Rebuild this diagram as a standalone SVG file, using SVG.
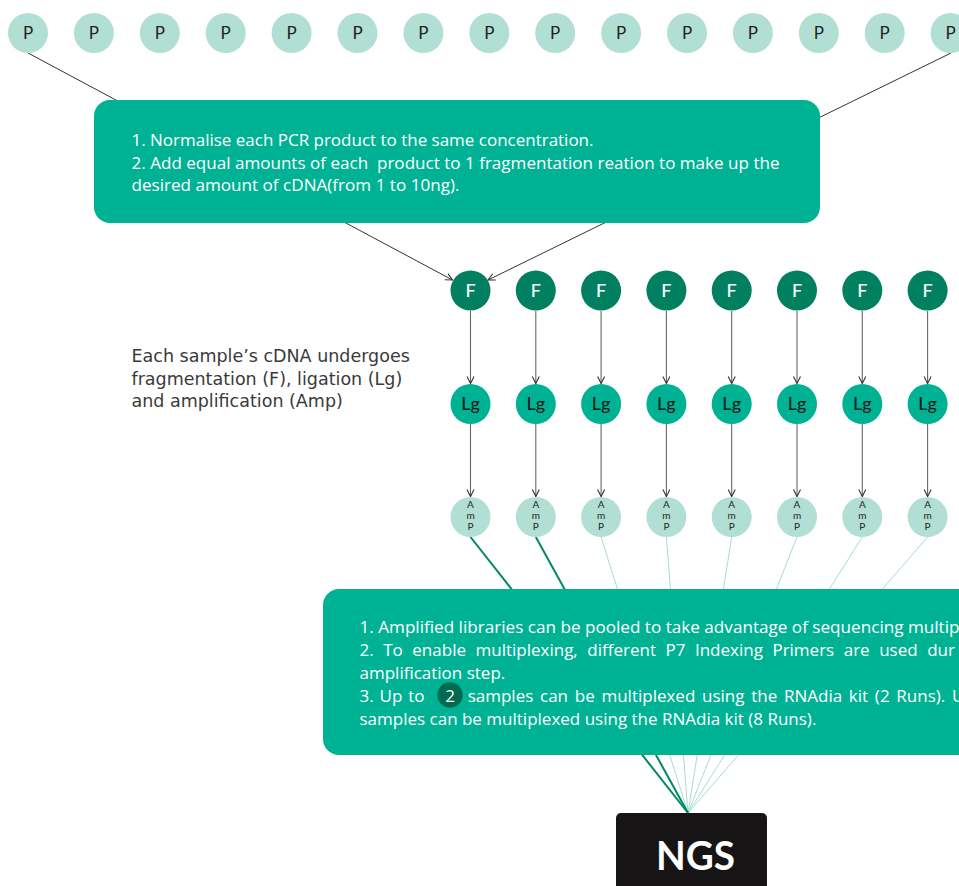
<svg xmlns="http://www.w3.org/2000/svg" width="959" height="886" viewBox="0 0 959 886">
<defs>
<style>
.p{fill:#b2dfd4}
.f{fill:#008060}
.lg{fill:#00b294}
.box{fill:#00b294}
.pt{font-family:Lato,"Open Sans",sans-serif;font-size:17px;fill:#222;text-anchor:middle}
.ft{font-family:Lato,"Open Sans",sans-serif;font-size:18px;font-weight:500;fill:#fff;text-anchor:middle}
.lt{font-family:Lato,"Open Sans",sans-serif;font-size:18px;font-weight:500;fill:#1d1d1d;text-anchor:middle}
.at{font-family:Lato,"Open Sans",sans-serif;font-size:10px;fill:#222;text-anchor:middle}
.bt{font-family:"Open Sans","Noto Sans",sans-serif;font-size:17px;fill:#fff}
.side{font-family:"DejaVu Sans",sans-serif;font-size:17.5px;fill:#3a3a3a}
.dark{stroke:#333;stroke-width:1;fill:none}
.vert{stroke:#666;stroke-width:1.1;fill:none}
.thick{stroke:#00876a;stroke-width:2}
.thin{stroke:#a8dccf;stroke-width:1}
</style>
<marker id="arr" markerWidth="10" markerHeight="10" refX="8" refY="4" orient="auto" markerUnits="userSpaceOnUse">
<path d="M1,0.5 L8,4 L1,7.5" fill="none" stroke="#333" stroke-width="1.1"/>
</marker>
</defs>
<rect width="959" height="886" fill="#fff"/>

<g id="connectors">
<line class="dark" x1="28" y1="53" x2="452.5" y2="280" marker-end="url(#arr)"/>
<line class="dark" x1="951" y1="53" x2="488" y2="280" marker-end="url(#arr)"/>
<line class="vert" x1="470.5" y1="311" x2="470.5" y2="383.5" marker-end="url(#arr)"/>
<line class="vert" x1="535.8" y1="311" x2="535.8" y2="383.5" marker-end="url(#arr)"/>
<line class="vert" x1="601.1" y1="311" x2="601.1" y2="383.5" marker-end="url(#arr)"/>
<line class="vert" x1="666.4" y1="311" x2="666.4" y2="383.5" marker-end="url(#arr)"/>
<line class="vert" x1="731.7" y1="311" x2="731.7" y2="383.5" marker-end="url(#arr)"/>
<line class="vert" x1="797" y1="311" x2="797" y2="383.5" marker-end="url(#arr)"/>
<line class="vert" x1="862.3" y1="311" x2="862.3" y2="383.5" marker-end="url(#arr)"/>
<line class="vert" x1="927.6" y1="311" x2="927.6" y2="383.5" marker-end="url(#arr)"/>
<line class="vert" x1="470.5" y1="424" x2="470.5" y2="496.5" marker-end="url(#arr)"/>
<line class="vert" x1="535.8" y1="424" x2="535.8" y2="496.5" marker-end="url(#arr)"/>
<line class="vert" x1="601.1" y1="424" x2="601.1" y2="496.5" marker-end="url(#arr)"/>
<line class="vert" x1="666.4" y1="424" x2="666.4" y2="496.5" marker-end="url(#arr)"/>
<line class="vert" x1="731.7" y1="424" x2="731.7" y2="496.5" marker-end="url(#arr)"/>
<line class="vert" x1="797" y1="424" x2="797" y2="496.5" marker-end="url(#arr)"/>
<line class="vert" x1="862.3" y1="424" x2="862.3" y2="496.5" marker-end="url(#arr)"/>
<line class="vert" x1="927.6" y1="424" x2="927.6" y2="496.5" marker-end="url(#arr)"/>
<line class="thin" x1="601.1" y1="537" x2="688" y2="813"/>
<line class="thin" x1="666.4" y1="537" x2="688" y2="813"/>
<line class="thin" x1="731.7" y1="537" x2="688" y2="813"/>
<line class="thin" x1="797" y1="537" x2="688" y2="813"/>
<line class="thin" x1="862.3" y1="537" x2="688" y2="813"/>
<line class="thin" x1="927.6" y1="537" x2="688" y2="813"/>
<line class="thick" x1="470.5" y1="537" x2="688" y2="813"/>
<line class="thick" x1="535.8" y1="537" x2="688" y2="813"/>
</g>

<g id="p-nodes">
<g id="p1"><circle class="p" cx="28" cy="33" r="20"/><text class="pt" x="28" y="39">P</text></g>
<g id="p2"><circle class="p" cx="93.9" cy="33" r="20"/><text class="pt" x="93.9" y="39">P</text></g>
<g id="p3"><circle class="p" cx="159.8" cy="33" r="20"/><text class="pt" x="159.8" y="39">P</text></g>
<g id="p4"><circle class="p" cx="225.7" cy="33" r="20"/><text class="pt" x="225.7" y="39">P</text></g>
<g id="p5"><circle class="p" cx="291.6" cy="33" r="20"/><text class="pt" x="291.6" y="39">P</text></g>
<g id="p6"><circle class="p" cx="357.5" cy="33" r="20"/><text class="pt" x="357.5" y="39">P</text></g>
<g id="p7"><circle class="p" cx="423.4" cy="33" r="20"/><text class="pt" x="423.4" y="39">P</text></g>
<g id="p8"><circle class="p" cx="489.3" cy="33" r="20"/><text class="pt" x="489.3" y="39">P</text></g>
<g id="p9"><circle class="p" cx="555.2" cy="33" r="20"/><text class="pt" x="555.2" y="39">P</text></g>
<g id="p10"><circle class="p" cx="621.1" cy="33" r="20"/><text class="pt" x="621.1" y="39">P</text></g>
<g id="p11"><circle class="p" cx="687" cy="33" r="20"/><text class="pt" x="687" y="39">P</text></g>
<g id="p12"><circle class="p" cx="752.9" cy="33" r="20"/><text class="pt" x="752.9" y="39">P</text></g>
<g id="p13"><circle class="p" cx="818.8" cy="33" r="20"/><text class="pt" x="818.8" y="39">P</text></g>
<g id="p14"><circle class="p" cx="884.7" cy="33" r="20"/><text class="pt" x="884.7" y="39">P</text></g>
<g id="p15"><circle class="p" cx="950.6" cy="33" r="20"/><text class="pt" x="950.6" y="39">P</text></g>
</g>

<g id="normalise-box">
<rect class="box" x="94" y="100" width="726" height="123" rx="16"/>
<text class="bt" x="131.5" y="146" textLength="462" lengthAdjust="spacingAndGlyphs">1. Normalise each PCR product to the same concentration.</text>
<text class="bt" x="131.5" y="168.5" textLength="648" lengthAdjust="spacingAndGlyphs" style="white-space:pre">2. Add equal amounts of each  product to 1 fragmentation reation to make up the</text>
<text class="bt" x="131.5" y="191" textLength="328" lengthAdjust="spacingAndGlyphs">desired amount of cDNA(from 1 to 10ng).</text>
</g>

<g id="side-label">
<text class="side" x="131.5" y="362">Each sample’s cDNA undergoes</text>
<text class="side" x="131.5" y="384.5">fragmentation (F), ligation (Lg)</text>
<text class="side" x="131.5" y="407">and amplification (Amp)</text>
</g>

<g id="f-nodes">
<g id="f1"><circle class="f" cx="470.5" cy="290.5" r="20"/><text class="ft" x="470.5" y="297">F</text></g>
<g id="f2"><circle class="f" cx="535.8" cy="290.5" r="20"/><text class="ft" x="535.8" y="297">F</text></g>
<g id="f3"><circle class="f" cx="601.1" cy="290.5" r="20"/><text class="ft" x="601.1" y="297">F</text></g>
<g id="f4"><circle class="f" cx="666.4" cy="290.5" r="20"/><text class="ft" x="666.4" y="297">F</text></g>
<g id="f5"><circle class="f" cx="731.7" cy="290.5" r="20"/><text class="ft" x="731.7" y="297">F</text></g>
<g id="f6"><circle class="f" cx="797" cy="290.5" r="20"/><text class="ft" x="797" y="297">F</text></g>
<g id="f7"><circle class="f" cx="862.3" cy="290.5" r="20"/><text class="ft" x="862.3" y="297">F</text></g>
<g id="f8"><circle class="f" cx="927.6" cy="290.5" r="20"/><text class="ft" x="927.6" y="297">F</text></g>
</g>

<g id="lg-nodes">
<g id="lg1"><circle class="lg" cx="470.5" cy="404" r="20"/><text class="lt" x="470.5" y="409.5">Lg</text></g>
<g id="lg2"><circle class="lg" cx="535.8" cy="404" r="20"/><text class="lt" x="535.8" y="409.5">Lg</text></g>
<g id="lg3"><circle class="lg" cx="601.1" cy="404" r="20"/><text class="lt" x="601.1" y="409.5">Lg</text></g>
<g id="lg4"><circle class="lg" cx="666.4" cy="404" r="20"/><text class="lt" x="666.4" y="409.5">Lg</text></g>
<g id="lg5"><circle class="lg" cx="731.7" cy="404" r="20"/><text class="lt" x="731.7" y="409.5">Lg</text></g>
<g id="lg6"><circle class="lg" cx="797" cy="404" r="20"/><text class="lt" x="797" y="409.5">Lg</text></g>
<g id="lg7"><circle class="lg" cx="862.3" cy="404" r="20"/><text class="lt" x="862.3" y="409.5">Lg</text></g>
<g id="lg8"><circle class="lg" cx="927.6" cy="404" r="20"/><text class="lt" x="927.6" y="409.5">Lg</text></g>
</g>

<g id="amp-nodes">
<g id="amp1"><circle class="p" cx="470.5" cy="517" r="20"/><text class="at"><tspan x="470.5" y="508">A</tspan><tspan x="470.5" y="519">m</tspan><tspan x="470.5" y="530">P</tspan></text></g>
<g id="amp2"><circle class="p" cx="535.8" cy="517" r="20"/><text class="at"><tspan x="535.8" y="508">A</tspan><tspan x="535.8" y="519">m</tspan><tspan x="535.8" y="530">P</tspan></text></g>
<g id="amp3"><circle class="p" cx="601.1" cy="517" r="20"/><text class="at"><tspan x="601.1" y="508">A</tspan><tspan x="601.1" y="519">m</tspan><tspan x="601.1" y="530">P</tspan></text></g>
<g id="amp4"><circle class="p" cx="666.4" cy="517" r="20"/><text class="at"><tspan x="666.4" y="508">A</tspan><tspan x="666.4" y="519">m</tspan><tspan x="666.4" y="530">P</tspan></text></g>
<g id="amp5"><circle class="p" cx="731.7" cy="517" r="20"/><text class="at"><tspan x="731.7" y="508">A</tspan><tspan x="731.7" y="519">m</tspan><tspan x="731.7" y="530">P</tspan></text></g>
<g id="amp6"><circle class="p" cx="797" cy="517" r="20"/><text class="at"><tspan x="797" y="508">A</tspan><tspan x="797" y="519">m</tspan><tspan x="797" y="530">P</tspan></text></g>
<g id="amp7"><circle class="p" cx="862.3" cy="517" r="20"/><text class="at"><tspan x="862.3" y="508">A</tspan><tspan x="862.3" y="519">m</tspan><tspan x="862.3" y="530">P</tspan></text></g>
<g id="amp8"><circle class="p" cx="927.6" cy="517" r="20"/><text class="at"><tspan x="927.6" y="508">A</tspan><tspan x="927.6" y="519">m</tspan><tspan x="927.6" y="530">P</tspan></text></g>
</g>

<g id="pool-box">
<rect class="box" x="323" y="589" width="700" height="166" rx="16"/>
<text class="bt" x="359.5" y="632.5" textLength="600" lengthAdjust="spacingAndGlyphs">1. Amplified libraries can be pooled to take advantage of sequencing multip</text>
<text class="bt" x="359.5" y="655.5" word-spacing="5.1">2. To enable multiplexing, different P7 Indexing Primers are used dur</text>
<text class="bt" x="359.5" y="678.5">amplification step.</text>
<text class="bt" x="359.5" y="701.5" word-spacing="1.5">3. Up to</text>
<circle cx="450" cy="695" r="12.7" fill="#006b50"/>
<text class="bt" x="450" y="701.5" text-anchor="middle">2</text>
<text class="bt" x="467.7" y="701.5" word-spacing="2.3">samples can be multiplexed using the RNAdia kit (2 Runs). U</text>
<text class="bt" x="359.5" y="724.5">samples can be multiplexed using the RNAdia kit (8 Runs).</text>
</g>

<g id="ngs">
<rect x="616" y="813" width="151" height="90" rx="5" fill="#161414"/>
<text x="695.5" y="870" text-anchor="middle" font-family="Lato,'Open Sans',sans-serif" font-size="40" font-weight="700" fill="#fff" textLength="79" lengthAdjust="spacingAndGlyphs">NGS</text>
</g>
</svg>
